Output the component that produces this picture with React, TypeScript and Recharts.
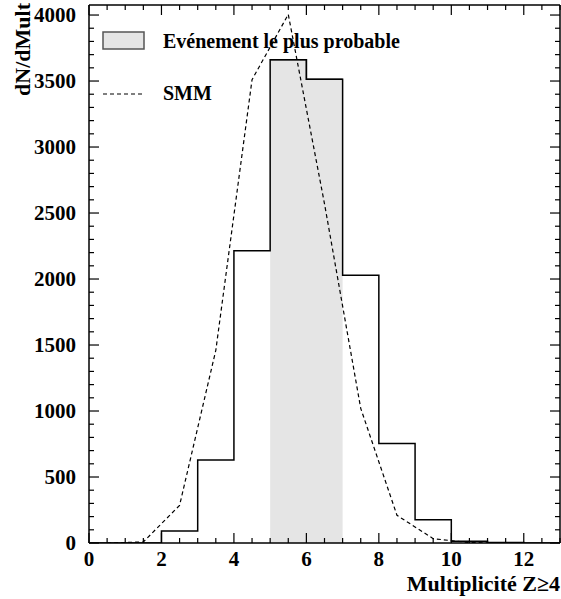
import React from 'react';
import { ComposedChart, Line, Area, XAxis, YAxis, Legend } from 'recharts';

// Histogram: lower bin edges and counts (bin width 1)
const binEdges = [0, 1, 2, 3, 4, 5, 6, 7, 8, 9, 10, 11, 12, 13];
const binCounts = [0, 0, 91, 629, 2215, 3662, 3513, 2028, 753, 177, 13, 3, 0];
// Most probable event bins (lower edges)
const likelyBins = [5, 6];
// SMM curve
const smmX = [0.5, 1.5, 2.5, 3.5, 4.5, 5.5, 6.5, 7.5, 8.5, 9.5, 10.5, 11.5];
const smmY = [0, 8, 285, 1460, 3510, 4005, 2570, 1020, 210, 33, 3, 0];
// Axis ticks
const xTicks = [0, 0.5, 1, 1.5, 2, 2.5, 3, 3.5, 4, 4.5, 5, 5.5, 6, 6.5, 7, 7.5, 8, 8.5, 9, 9.5, 10, 10.5, 11, 11.5, 12, 12.5, 13];
const xMajor = [0, 2, 4, 6, 8, 10, 12];
const yTicks = [0, 100, 200, 300, 400, 500, 600, 700, 800, 900, 1000, 1100, 1200, 1300, 1400, 1500, 1600, 1700, 1800, 1900, 2000, 2100, 2200, 2300, 2400, 2500, 2600, 2700, 2800, 2900, 3000, 3100, 3200, 3300, 3400, 3500, 3600, 3700, 3800, 3900, 4000];
const yMajor = [0, 500, 1000, 1500, 2000, 2500, 3000, 3500, 4000];

const histData = binEdges.map((e, i) => ({ x: e, h: i < binCounts.length ? binCounts[i] : 0 }));
const shadedData = [
  ...likelyBins.map((b) => ({ x: b, s: binCounts[binEdges.indexOf(b)] })),
  { x: likelyBins[likelyBins.length - 1] + 1, s: binCounts[binEdges.indexOf(likelyBins[likelyBins.length - 1])] },
];
const smmData = smmX.map((x, i) => ({ x, m: smmY[i] }));

const FONT = '"Liberation Serif", "Times New Roman", serif';
const textStyle = { fontFamily: FONT, fontWeight: 700 };

const BottomTick = (props: any) => {
  const { x, y, payload } = props;
  const v = payload.value;
  const major = xMajor.includes(v);
  return (
    <g>
      <line x1={x} x2={x} y1={y} y2={y - (major ? 10 : 5)} stroke="#000" strokeWidth={1.2} />
      {major && (
        <text x={x} y={y + 23} textAnchor="middle" fontSize={21} style={textStyle} fill="#000">
          {v}
        </text>
      )}
    </g>
  );
};

const TopTick = (props: any) => {
  const { x, y, payload } = props;
  const major = xMajor.includes(payload.value);
  return <line x1={x} x2={x} y1={y} y2={y + (major ? 10 : 5)} stroke="#000" strokeWidth={1.2} />;
};

const LeftTick = (props: any) => {
  const { x, y, payload } = props;
  const v = payload.value;
  const major = yMajor.includes(v);
  return (
    <g>
      <line x1={x} x2={x + (major ? 10 : 5)} y1={y} y2={y} stroke="#000" strokeWidth={1.2} />
      {major && (
        <text x={x - 13} y={y + 7} textAnchor="end" fontSize={21} style={textStyle} fill="#000">
          {v}
        </text>
      )}
    </g>
  );
};

const RightTick = (props: any) => {
  const { x, y, payload } = props;
  const major = yMajor.includes(payload.value);
  return <line x1={x} x2={x - (major ? 10 : 5)} y1={y} y2={y} stroke="#000" strokeWidth={1.2} />;
};

const LegendBox = () => (
  <svg width={561} height={120} style={{ display: 'block' }}>
    <rect x={103} y={32} width={41} height={17} fill="#e5e5e5" stroke="#555" strokeWidth={1.5} />
    <text x={163} y={48} fontSize={20} style={textStyle} fill="#000">
      Evénement le plus probable
    </text>
    <line x1={103} x2={144} y1={94} y2={94} stroke="#000" strokeWidth={1.2} strokeDasharray="4 3" />
    <text x={163} y={100} fontSize={20} style={textStyle} fill="#000">
      SMM
    </text>
  </svg>
);

const XTitle = (props: any) => {
  const vb = props.viewBox || {};
  return (
    <text x={vb.x + vb.width} y={vb.y + 48} textAnchor="end" fontSize={22} style={textStyle} fill="#000">
      Multiplicité Z≥4
    </text>
  );
};

const YTitle = () => (
  <text x={30} y={3} transform="rotate(-90 30 3)" textAnchor="end" fontSize={22} style={textStyle} fill="#000">
    dN/dMult
  </text>
);

export default function App() {
  return (
    <div style={{ position: 'absolute', left: 0, top: 0, width: 561, height: 599, background: '#fff' }}>
      <ComposedChart width={561} height={599} margin={{ top: 4, right: 0, bottom: 0, left: 0 }}>
        <XAxis
          xAxisId="b"
          dataKey="x"
          type="number"
          domain={[0, 13]}
          ticks={xTicks}
          interval={0}
          tickSize={0}
          tickMargin={0}
          tickLine={false}
          tick={<BottomTick />}
          axisLine={{ stroke: '#000', strokeWidth: 1.5 }}
          height={56}
          allowDataOverflow
          label={<XTitle />}
        />
        <XAxis
          xAxisId="t"
          orientation="top"
          dataKey="x"
          type="number"
          domain={[0, 13]}
          ticks={xTicks}
          interval={0}
          tickSize={0}
          tickMargin={0}
          tickLine={false}
          tick={<TopTick />}
          axisLine={{ stroke: '#000', strokeWidth: 1.5 }}
          height={1}
          allowDataOverflow
        />
        <YAxis
          yAxisId="l"
          type="number"
          domain={[0, 4076]}
          ticks={yTicks}
          interval={0}
          tickSize={0}
          tickMargin={0}
          tickLine={false}
          tick={<LeftTick />}
          axisLine={{ stroke: '#000', strokeWidth: 1.5 }}
          width={89}
          allowDataOverflow
          label={<YTitle />}
        />
        <YAxis
          yAxisId="r"
          orientation="right"
          type="number"
          domain={[0, 4076]}
          ticks={yTicks}
          interval={0}
          tickSize={0}
          tickMargin={0}
          tickLine={false}
          tick={<RightTick />}
          axisLine={{ stroke: '#000', strokeWidth: 1.5 }}
          width={1}
          allowDataOverflow
        />
        <Line
          xAxisId="b"
          yAxisId="l"
          data={histData}
          dataKey="h"
          type="stepAfter"
          stroke="#000"
          strokeWidth={1.5}
          dot={false}
          isAnimationActive={false}
        />
        <Area
          xAxisId="b"
          yAxisId="l"
          data={shadedData}
          dataKey="s"
          type="stepAfter"
          stroke="#555"
          strokeWidth={1.5}
          fill="#e5e5e5"
          fillOpacity={1}
          dot={false}
          activeDot={false}
          isAnimationActive={false}
        />
        <Line
          xAxisId="b"
          yAxisId="l"
          data={smmData}
          dataKey="m"
          type="linear"
          stroke="#000"
          strokeWidth={1.2}
          strokeDasharray="4 3"
          dot={false}
          isAnimationActive={false}
        />
        <Legend
          layout="horizontal"
          verticalAlign="middle"
          align="center"
          content={<LegendBox />}
          wrapperStyle={{ position: 'absolute', left: 0, top: 0, width: 561, height: 120 }}
        />
      </ComposedChart>
    </div>
  );
}
